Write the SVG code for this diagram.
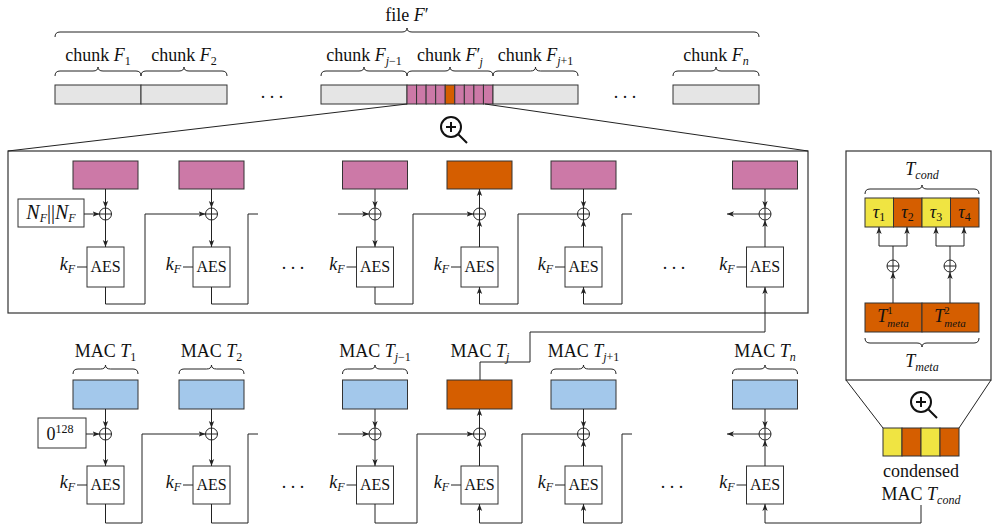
<svg xmlns="http://www.w3.org/2000/svg" width="992" height="527" viewBox="0 0 992 527">
<defs>
<marker id="ah" viewBox="0 0 10 10" refX="10" refY="5" markerWidth="7" markerHeight="7" markerUnits="userSpaceOnUse" orient="auto"><path d="M0,1.2 L10,5 L0,8.8 L2.5,5 z" fill="#222"/></marker>
</defs>
<style>
text{font-family:"Liberation Serif","Times New Roman",serif;font-size:18px;fill:#111;text-anchor:middle}
.i{font-style:italic}
.s{font-size:12px}
.ss{font-size:11px}
.aes{font-size:16px}
.e{text-anchor:end}
.bx{stroke:#333;stroke-width:1}
.grey{fill:#E5E5E5}
.pink{fill:#CC79A7}
.orange{fill:#D55E00}
.blue{fill:#A3C8EB}
.yellow{fill:#F0E442}
.w{fill:#fff}
.ln{fill:none;stroke:#222;stroke-width:1}
.ar{marker-end:url(#ah)}
.br{fill:none;stroke:#222;stroke-width:1}
.xor{fill:#fff;stroke:#222;stroke-width:1}
.mag{fill:none;stroke:#111;stroke-width:2}
</style>

<!-- file and chunks -->
<g id="file">
<text x="407" y="21">file <tspan class="i">F</tspan>′</text>
<path class="br" d="M55,37 Q55,32 60,32 H402 Q407,32 407,28 Q407,32 412,32 H754 Q759,32 759,37"/>
</g>
<g id="chunk-1">
<text x="98" y="61">chunk <tspan class="i">F</tspan><tspan class="s" dy="4">1</tspan></text>
<path class="br" d="M55,76 Q55,71 60,71 H93 Q98,71 98,67 Q98,71 103,71 H136 Q141,71 141,76"/>
<rect class="bx grey" x="55" y="85" width="86" height="19"/>
</g>
<g id="chunk-2">
<text x="184" y="61">chunk <tspan class="i">F</tspan><tspan class="s" dy="4">2</tspan></text>
<path class="br" d="M141,76 Q141,71 146,71 H179 Q184,71 184,67 Q184,71 189,71 H222 Q227,71 227,76"/>
<rect class="bx grey" x="141" y="85" width="86" height="19"/>
</g>
<text x="272" y="98">. . .</text>
<g id="chunk-jm1">
<text x="364" y="61">chunk <tspan class="i">F</tspan><tspan class="s" dy="4"><tspan class="i">j</tspan>−1</tspan></text>
<path class="br" d="M321,76 Q321,71 326,71 H359 Q364,71 364,67 Q364,71 369,71 H402 Q407,71 407,76"/>
<rect class="bx grey" x="321" y="85" width="86" height="19"/>
</g>
<g id="chunk-j">
<text x="450" y="61">chunk <tspan class="i">F</tspan>′<tspan class="s i" dx="-1" dy="5">j</tspan></text>
<path class="br" d="M407,76 Q407,71 412,71 H445 Q450,71 450,67 Q450,71 455,71 H488 Q493,71 493,76"/>
<rect class="bx pink" x="407" y="85" width="9.56" height="19"/>
<rect class="bx pink" x="416.56" y="85" width="9.56" height="19"/>
<rect class="bx pink" x="426.11" y="85" width="9.56" height="19"/>
<rect class="bx pink" x="435.67" y="85" width="9.56" height="19"/>
<rect class="bx orange" x="445.22" y="85" width="9.56" height="19"/>
<rect class="bx pink" x="454.78" y="85" width="9.56" height="19"/>
<rect class="bx pink" x="464.33" y="85" width="9.56" height="19"/>
<rect class="bx pink" x="473.89" y="85" width="9.56" height="19"/>
<rect class="bx pink" x="483.44" y="85" width="9.56" height="19"/>
</g>
<g id="chunk-jp1">
<text x="535.5" y="61">chunk <tspan class="i">F</tspan><tspan class="s" dy="4"><tspan class="i">j</tspan>+1</tspan></text>
<path class="br" d="M493,76 Q493,71 498,71 H530.5 Q535.5,71 535.5,67 Q535.5,71 540.5,71 H573 Q578,71 578,76"/>
<rect class="bx grey" x="493" y="85" width="85" height="19"/>
</g>
<text x="625" y="98">. . .</text>
<g id="chunk-n">
<text x="716" y="61">chunk <tspan class="i">F</tspan><tspan class="s i" dy="4">n</tspan></text>
<path class="br" d="M673,76 Q673,71 678,71 H711 Q716,71 716,67 Q716,71 721,71 H754 Q759,71 759,76"/>
<rect class="bx grey" x="673" y="85" width="86" height="19"/>
</g>

<g id="magnifier-1">
<circle class="mag" cx="451" cy="127" r="10"/>
<path class="mag" d="M446,127H456M451,122V132M458.5,134.5L467,143"/>
</g>

<!-- zoom frame -->
<g id="zoom-frame">
<rect x="8" y="151" width="800" height="162" fill="none" stroke="#333" stroke-width="1.2"/>
</g>

<!-- top row: encryption -->
<g id="enc-1">
<rect class="bx pink" x="73" y="161" width="65" height="28"/>
<circle class="xor" cx="105.5" cy="214" r="6"/><path class="ln" d="M99.5,214h12M105.5,208v12"/>
<rect class="bx w" x="87" y="247" width="37" height="40"/>
<text class="aes" x="105.5" y="272">AES</text>
<text class="e" x="75" y="270"><tspan class="i">k</tspan><tspan class="s i" dy="3">F</tspan></text>
<path class="ln" d="M77,267H87"/>
</g>
<g id="nonce">
<rect class="bx w" x="18" y="199" width="66" height="28"/>
<text x="51" y="219" style="font-size:20px"><tspan class="i">N</tspan><tspan class="s i" dy="3">F</tspan><tspan dy="-3">||</tspan><tspan class="i">N</tspan><tspan class="s i" dy="3">F</tspan></text>
</g>
<g id="enc-2">
<rect class="bx pink" x="179" y="161" width="65" height="28"/>
<circle class="xor" cx="211.5" cy="214" r="6"/><path class="ln" d="M205.5,214h12M211.5,208v12"/>
<rect class="bx w" x="193" y="247" width="37" height="40"/>
<text class="aes" x="211.5" y="272">AES</text>
<text class="e" x="181" y="270"><tspan class="i">k</tspan><tspan class="s i" dy="3">F</tspan></text>
<path class="ln" d="M183,267H193"/>
</g>
<text x="293" y="269">. . .</text>
<g id="enc-jm1">
<rect class="bx pink" x="342.5" y="161" width="65" height="28"/>
<circle class="xor" cx="375" cy="214" r="6"/><path class="ln" d="M369,214h12M375,208v12"/>
<rect class="bx w" x="356.5" y="247" width="37" height="40"/>
<text class="aes" x="375" y="272">AES</text>
<text class="e" x="344.5" y="270"><tspan class="i">k</tspan><tspan class="s i" dy="3">F</tspan></text>
<path class="ln" d="M346.5,267H356.5"/>
</g>
<g id="enc-j">
<rect class="bx orange" x="447" y="161" width="65" height="28"/>
<circle class="xor" cx="479.5" cy="214" r="6"/><path class="ln" d="M473.5,214h12M479.5,208v12"/>
<rect class="bx w" x="461" y="247" width="37" height="40"/>
<text class="aes" x="479.5" y="272">AES</text>
<text class="e" x="449" y="270"><tspan class="i">k</tspan><tspan class="s i" dy="3">F</tspan></text>
<path class="ln" d="M451,267H461"/>
</g>
<g id="enc-jp1">
<rect class="bx pink" x="551" y="161" width="65" height="28"/>
<circle class="xor" cx="583.5" cy="214" r="6"/><path class="ln" d="M577.5,214h12M583.5,208v12"/>
<rect class="bx w" x="565" y="247" width="37" height="40"/>
<text class="aes" x="583.5" y="272">AES</text>
<text class="e" x="553" y="270"><tspan class="i">k</tspan><tspan class="s i" dy="3">F</tspan></text>
<path class="ln" d="M555,267H565"/>
</g>
<text x="674" y="269">. . .</text>
<g id="enc-n">
<rect class="bx pink" x="732.5" y="161" width="65" height="28"/>
<circle class="xor" cx="765" cy="214" r="6"/><path class="ln" d="M759,214h12M765,208v12"/>
<rect class="bx w" x="746.5" y="247" width="37" height="40"/>
<text class="aes" x="765" y="272">AES</text>
<text class="e" x="734.5" y="270"><tspan class="i">k</tspan><tspan class="s i" dy="3">F</tspan></text>
<path class="ln" d="M736.5,267H746.5"/>
</g>

<!-- bottom row: MAC -->
<g id="mac-1">
<text x="105.5" y="357">MAC <tspan class="i">T</tspan><tspan class="s" dy="4">1</tspan></text>
<path class="br" d="M73,374 Q73,369 78,369 H100.5 Q105.5,369 105.5,365 Q105.5,369 110.5,369 H133 Q138,369 138,374"/>
<rect class="bx blue" x="73" y="380" width="65" height="29"/>
<circle class="xor" cx="105.5" cy="434" r="6"/><path class="ln" d="M99.5,434h12M105.5,428v12"/>
<rect class="bx w" x="87" y="466" width="37" height="38"/>
<text class="aes" x="105.5" y="490">AES</text>
<text class="e" x="75" y="488"><tspan class="i">k</tspan><tspan class="s i" dy="3">F</tspan></text>
<path class="ln" d="M77,485H87"/>
</g>
<g id="zero-iv">
<rect class="bx w" x="38" y="418" width="48" height="30"/>
<text x="60" y="440">0<tspan class="s" dy="-7">128</tspan></text>
</g>
<g id="mac-2">
<text x="211.5" y="357">MAC <tspan class="i">T</tspan><tspan class="s" dy="4">2</tspan></text>
<path class="br" d="M179,374 Q179,369 184,369 H206.5 Q211.5,369 211.5,365 Q211.5,369 216.5,369 H239 Q244,369 244,374"/>
<rect class="bx blue" x="179" y="380" width="65" height="29"/>
<circle class="xor" cx="211.5" cy="434" r="6"/><path class="ln" d="M205.5,434h12M211.5,428v12"/>
<rect class="bx w" x="193" y="466" width="37" height="38"/>
<text class="aes" x="211.5" y="490">AES</text>
<text class="e" x="181" y="488"><tspan class="i">k</tspan><tspan class="s i" dy="3">F</tspan></text>
<path class="ln" d="M183,485H193"/>
</g>
<text x="293" y="488">. . .</text>
<g id="mac-jm1">
<text x="375" y="357">MAC <tspan class="i">T</tspan><tspan class="s" dy="4"><tspan class="i">j</tspan>−1</tspan></text>
<path class="br" d="M342.5,374 Q342.5,369 347.5,369 H370 Q375,369 375,365 Q375,369 380,369 H402.5 Q407.5,369 407.5,374"/>
<rect class="bx blue" x="342.5" y="380" width="65" height="29"/>
<circle class="xor" cx="375" cy="434" r="6"/><path class="ln" d="M369,434h12M375,428v12"/>
<rect class="bx w" x="356.5" y="466" width="37" height="38"/>
<text class="aes" x="375" y="490">AES</text>
<text class="e" x="344.5" y="488"><tspan class="i">k</tspan><tspan class="s i" dy="3">F</tspan></text>
<path class="ln" d="M346.5,485H356.5"/>
</g>
<g id="mac-j">
<text x="480" y="357">MAC <tspan class="i">T</tspan><tspan class="s i" dy="4">j</tspan></text>
<rect class="bx orange" x="447" y="380" width="65" height="29"/>
<circle class="xor" cx="479.5" cy="434" r="6"/><path class="ln" d="M473.5,434h12M479.5,428v12"/>
<rect class="bx w" x="461" y="466" width="37" height="38"/>
<text class="aes" x="479.5" y="490">AES</text>
<text class="e" x="449" y="488"><tspan class="i">k</tspan><tspan class="s i" dy="3">F</tspan></text>
<path class="ln" d="M451,485H461"/>
</g>
<g id="mac-jp1">
<text x="583.5" y="357">MAC <tspan class="i">T</tspan><tspan class="s" dy="4"><tspan class="i">j</tspan>+1</tspan></text>
<path class="br" d="M551,374 Q551,369 556,369 H578.5 Q583.5,369 583.5,365 Q583.5,369 588.5,369 H611 Q616,369 616,374"/>
<rect class="bx blue" x="551" y="380" width="65" height="29"/>
<circle class="xor" cx="583.5" cy="434" r="6"/><path class="ln" d="M577.5,434h12M583.5,428v12"/>
<rect class="bx w" x="565" y="466" width="37" height="38"/>
<text class="aes" x="583.5" y="490">AES</text>
<text class="e" x="553" y="488"><tspan class="i">k</tspan><tspan class="s i" dy="3">F</tspan></text>
<path class="ln" d="M555,485H565"/>
</g>
<text x="672" y="488">. . .</text>
<g id="mac-n">
<text x="765" y="357">MAC <tspan class="i">T</tspan><tspan class="s i" dy="4">n</tspan></text>
<path class="br" d="M732.5,374 Q732.5,369 737.5,369 H760 Q765,369 765,365 Q765,369 770,369 H792.5 Q797.5,369 797.5,374"/>
<rect class="bx blue" x="732.5" y="380" width="65" height="29"/>
<circle class="xor" cx="765" cy="434" r="6"/><path class="ln" d="M759,434h12M765,428v12"/>
<rect class="bx w" x="746.5" y="466" width="37" height="38"/>
<text class="aes" x="765" y="490">AES</text>
<text class="e" x="734.5" y="488"><tspan class="i">k</tspan><tspan class="s i" dy="3">F</tspan></text>
<path class="ln" d="M736.5,485H746.5"/>
</g>

<!-- right panel -->
<g id="cond-panel">
<rect x="846" y="151" width="145" height="229" fill="none" stroke="#333" stroke-width="1.2"/>
<text x="922" y="175"><tspan class="i">T</tspan><tspan class="s i" dy="4">cond</tspan></text>
<path class="br" d="M865,194 Q865,189 870,189 H917 Q922,189 922,185 Q922,189 927,189 H974 Q979,189 979,194"/>
<rect class="bx yellow" x="865" y="198" width="28.5" height="29"/>
<rect class="bx orange" x="893.5" y="198" width="28.5" height="29"/>
<rect class="bx yellow" x="922" y="198" width="28.5" height="29"/>
<rect class="bx orange" x="950.5" y="198" width="28.5" height="29"/>
<text x="879" y="218"><tspan class="i">τ</tspan><tspan class="s" dy="3">1</tspan></text>
<text x="907.5" y="218"><tspan class="i">τ</tspan><tspan class="s" dy="3">2</tspan></text>
<text x="936" y="218"><tspan class="i">τ</tspan><tspan class="s" dy="3">3</tspan></text>
<text x="964.5" y="218"><tspan class="i">τ</tspan><tspan class="s" dy="3">4</tspan></text>
<circle class="xor" cx="893" cy="266" r="6"/><path class="ln" d="M887,266h12M893,260v12"/>
<circle class="xor" cx="950" cy="266" r="6"/><path class="ln" d="M944,266h12M950,260v12"/>
<rect class="bx orange" x="865" y="303" width="57" height="29"/>
<rect class="bx orange" x="922" y="303" width="57" height="29"/>
<text x="893" y="322"><tspan class="i">T</tspan><tspan class="ss" dy="-8">1</tspan><tspan class="ss i" dx="-5.5" dy="13">meta</tspan></text>
<text x="950" y="322"><tspan class="i">T</tspan><tspan class="ss" dy="-8">2</tspan><tspan class="ss i" dx="-5.5" dy="13">meta</tspan></text>
<path class="br" d="M865,338 Q865,343 870,343 H917 Q922,343 922,347 Q922,343 927,343 H974 Q979,343 979,338"/>
<text x="922" y="367"><tspan class="i">T</tspan><tspan class="s i" dy="4">meta</tspan></text>
</g>
<g id="magnifier-2">
<circle class="mag" cx="921" cy="402" r="10"/>
<path class="mag" d="M916,402H926M921,397V407M928.5,409.5L937,418"/>
</g>
<g id="condensed-mac">
<rect class="bx yellow" x="883" y="428" width="19" height="28"/>
<rect class="bx orange" x="902" y="428" width="19" height="28"/>
<rect class="bx yellow" x="921" y="428" width="19" height="28"/>
<rect class="bx orange" x="940" y="428" width="19" height="28"/>
<text x="921" y="477">condensed</text>
<text x="921" y="500">MAC <tspan class="i">T</tspan><tspan class="s i" dy="4">cond</tspan></text>
</g>

<g id="connectors">
<path class="ln" d="M407,104L8,151M485,104L808,151M846,380L883,428M991,380L959,428"/>
<path class="ln ar" d="M105.5,189V208"/>
<path class="ln ar" d="M105.5,220V247"/>
<path class="ln ar" d="M84,214H99.5"/>
<path class="ln ar" d="M105.5,287V304H145V214H205.5"/>
<path class="ln ar" d="M211.5,189V208"/>
<path class="ln ar" d="M211.5,220V247"/>
<path class="ln" d="M211.5,287V304H248V214H258"/>
<path class="ln ar" d="M338,214H369"/>
<path class="ln ar" d="M375,189V208"/>
<path class="ln ar" d="M375,220V247"/>
<path class="ln ar" d="M375,287V304H413V214H473.5"/>
<path class="ln ar" d="M479.5,247V220"/>
<path class="ln ar" d="M479.5,208V189"/>
<path class="ln ar" d="M577.5,214H518V304H479.5V287"/>
<path class="ln ar" d="M583.5,189V208"/>
<path class="ln ar" d="M583.5,247V220"/>
<path class="ln ar" d="M632,214H622V304H583.5V287"/>
<path class="ln ar" d="M765,189V208"/>
<path class="ln ar" d="M765,247V220"/>
<path class="ln ar" d="M759,214H727"/>
<path class="ln ar" d="M480,380V362H530V332H765V287"/>
<path class="ln ar" d="M105.5,409V428"/>
<path class="ln ar" d="M105.5,440V466"/>
<path class="ln ar" d="M86,434H99.5"/>
<path class="ln ar" d="M105.5,504V523H142V434H205.5"/>
<path class="ln ar" d="M211.5,409V428"/>
<path class="ln ar" d="M211.5,440V466"/>
<path class="ln" d="M211.5,504V523H248V434H258"/>
<path class="ln ar" d="M338,434H369"/>
<path class="ln ar" d="M375,409V428"/>
<path class="ln ar" d="M375,440V466"/>
<path class="ln ar" d="M375,504V523H417V434H473.5"/>
<path class="ln ar" d="M479.5,466V440"/>
<path class="ln ar" d="M479.5,428V409"/>
<path class="ln ar" d="M577.5,434H522V523H479.5V504"/>
<path class="ln ar" d="M583.5,409V428"/>
<path class="ln ar" d="M583.5,466V440"/>
<path class="ln ar" d="M632,434H622V523H583.5V504"/>
<path class="ln ar" d="M765,409V428"/>
<path class="ln ar" d="M765,466V440"/>
<path class="ln ar" d="M759,434H727"/>
<path class="ln ar" d="M921,505V523H765V504"/>
<path class="ln" d="M893,260V246M879,246H907M950,260V246M936,246H964"/>
<path class="ln ar" d="M879,246V227"/>
<path class="ln ar" d="M907,246V227"/>
<path class="ln ar" d="M936,246V227"/>
<path class="ln ar" d="M964,246V227"/>
<path class="ln ar" d="M893,303V272"/>
<path class="ln ar" d="M950,303V272"/>
</g>
</svg>
